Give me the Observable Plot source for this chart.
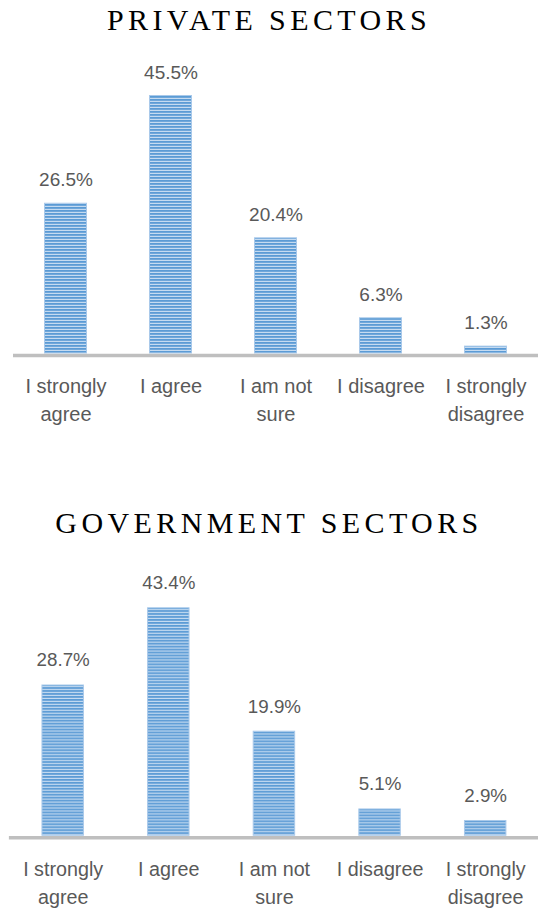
<!DOCTYPE html>
<html><head><meta charset="utf-8">
<script src="https://cdn.jsdelivr.net/npm/d3@7"></script>
<script src="https://cdn.jsdelivr.net/npm/@observablehq/plot@0.6"></script>
<style>
body{margin:0;background:#fff;width:538px;height:917px;position:relative;overflow:hidden}
.title{position:absolute;left:0;width:538px;padding-left:0;box-sizing:border-box;text-align:center;font-family:"Liberation Serif","Times New Roman",serif;font-size:30px;letter-spacing:4.4px;color:#000;line-height:1;white-space:nowrap}
.chart{position:absolute;left:0}
</style></head><body>
<div class="title" style="top:5px">PRIVATE SECTORS</div>
<div class="chart" id="c1" style="top:45px"></div>
<div class="title" style="top:508px">GOVERNMENT SECTORS</div>
<div class="chart" id="c2" style="top:545px"></div>
<script>
const categories = ["I strongly agree", "I agree", "I am not sure", "I disagree", "I strongly disagree"];
const labelLine1 = ["I strongly", "I agree", "I am not", "I disagree", "I strongly"];
const labelLine2 = ["agree", "", "sure", "", "disagree"];
const privateValues = [26.5, 45.5, 20.4, 6.3, 1.3];
const governmentValues = [28.7, 43.4, 19.9, 5.1, 2.9];

function addPattern(svg, id) {
  const ns = "http://www.w3.org/2000/svg";
  const defs = document.createElementNS(ns, "defs");
  defs.innerHTML = `<pattern id="${id}" patternUnits="userSpaceOnUse" width="6" height="3">
    <rect width="6" height="3" fill="#c5dbf1"/>
    <rect width="6" height="1.8" fill="#5b9bd5"/>
  </pattern>`;
  svg.insertBefore(defs, svg.firstChild);
}

function makeChart(values, opts) {
  const data = categories.map((c, i) => ({cat: c, value: values[i], l1: labelLine1[i], l2: labelLine2[i]}));
  const svg = Plot.plot({
    width: opts.width,
    height: opts.height,
    marginLeft: opts.marginLeft,
    marginRight: 0,
    marginTop: opts.marginTop,
    marginBottom: opts.marginBottom,
    style: {fontFamily: "'Liberation Sans', Arial, sans-serif", background: "transparent", overflow: "visible"},
    x: {type: "band", domain: categories, paddingInner: opts.pi, paddingOuter: opts.po, axis: null},
    y: {domain: [0, 50], axis: null},
    marks: [
      Plot.barY(data, {x: "cat", y: "value", fill: `url(#${opts.pid})`, stroke: "#a9c9ea", strokeWidth: 1, insetTop: 0.5, insetLeft: 0.5, insetRight: 0.5}),
      Plot.ruleY([0], {stroke: "#bfbfbf", strokeWidth: 3.5, dy: 2}),
      Plot.text(data, {x: "cat", y: "value", text: d => d.value.toFixed(1) + "%", dy: opts.valueDy, fontSize: 19, fill: "#595959"}),
      Plot.text(data, {x: "cat", y: 0, text: "l1", dy: opts.line1, fontSize: 20, fill: "#595959"}),
      Plot.text(data, {x: "cat", y: 0, text: "l2", dy: opts.line2, fontSize: 20, fill: "#595959"})
    ]
  });
  addPattern(svg, opts.pid);
  return svg;
}

document.getElementById("c1").appendChild(makeChart(privateValues, {
  width: 538, height: 390, marginLeft: 13, marginTop: 24.5, marginBottom: 82,
  pi: 0.59, po: 0.295, pid: "stripe1", valueDy: -23, line1: 33, line2: 61
}));
document.getElementById("c2").appendChild(makeChart(governmentValues, {
  width: 545, height: 372, marginLeft: 9, marginTop: 28, marginBottom: 78,
  pi: 0.6, po: 0.3, pid: "stripe2", valueDy: -25, line1: 34, line2: 63
}));
</script>
</body></html>
